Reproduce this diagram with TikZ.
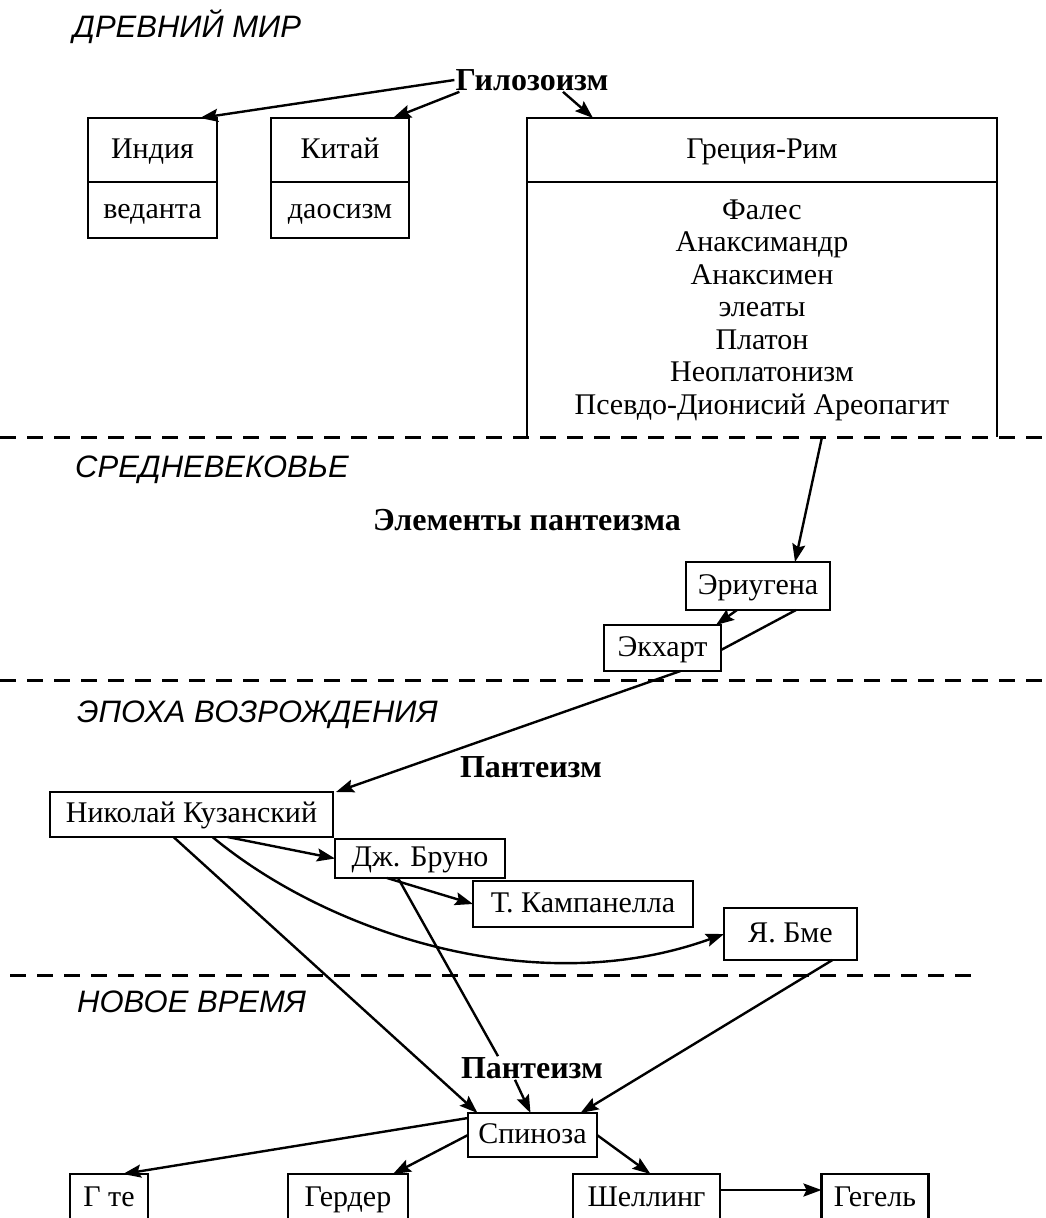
\documentclass[tikz,border=0pt]{standalone}
\usepackage{fontspec}
\setmainfont{Liberation Serif}
\setsansfont{Liberation Sans}
\usepackage{tikz}
\usetikzlibrary{arrows.meta,positioning}
\tikzset{
  boxnode/.style={rectangle, draw=black, line width=2.8pt, fill=white, inner sep=0pt, outer sep=0pt,
    text height=22pt, text depth=6pt, font=\fontsize{30}{32.5}\selectfont, align=center},
  listnode/.style={inner sep=0pt, font=\fontsize{30}{32.5}\selectfont, align=center},
  termnode/.style={inner sep=1pt, font=\bfseries\fontsize{32}{36}\selectfont},
  eranode/.style={anchor=west, inner sep=0pt, font=\sffamily\itshape\fontsize{31}{34}\selectfont},
  normaledge/.style={-{Stealth[length=18pt, width=13pt, inset=3pt]}, draw=black, line width=2.4pt},
  plainedge/.style={draw=black, line width=2.4pt},
  eraline/.style={draw=black, line width=3pt, dash pattern=on 16pt off 11pt},
}
\begin{document}
\begin{tikzpicture}[x=1pt, y=-1pt]
  \useasboundingbox (0,0) rectangle (1046,1218);
  \clip (0,0) rectangle (1046,1218);
  % era separators
  \coordinate (sepA) at (0,437);   \coordinate (sepAend) at (1046,437);
  \coordinate (sepB) at (0,680);   \coordinate (sepBend) at (1046,680);
  \coordinate (sepC) at (10,975);  \coordinate (sepCend) at (975,975);
  \draw[eraline] (sepA) -- (sepAend);
  \draw[eraline] (sepB) -- (sepBend);
  \draw[eraline] (sepC) -- (sepCend);
  % era titles
  \node[eranode] (ancient) at (73,27) {ДРЕВНИЙ МИР};
  \node[eranode] (medieval) at (75,470) {СРЕДНЕВЕКОВЬЕ};
  \node[eranode] (renaissance) at (77,715) {ЭПОХА ВОЗРОЖДЕНИЯ};
  \node[eranode] (modern) at (77,1002) {НОВОЕ ВРЕМЯ};
  % ancient world
  \node[termnode] (hylo) at (532,80) {Гилозоизм};
  \node[boxnode, minimum width=129pt, minimum height=64pt] (india) at (152.5,150) {Индия};
  \node[boxnode, minimum width=129pt, minimum height=56pt, anchor=north] (vedanta) at (india.south) {веданта};
  \node[boxnode, minimum width=138pt, minimum height=64pt] (china) at (340,150) {Китай};
  \node[boxnode, minimum width=138pt, minimum height=56pt, anchor=north] (taoism) at (china.south) {даосизм};
  \node[boxnode, minimum width=470pt, minimum height=64pt] (greece) at (762,150) {Греция-Рим};
  \draw[line width=2.8pt] (greece.south west) -- (greece.south west |- sepA);
  \draw[line width=2.8pt] (greece.south east) -- (greece.south east |- sepA);
  \node[listnode] (greeklist) at (762,310) {Фалес\\Анаксимандр\\Анаксимен\\элеаты\\Платон\\Неоплатонизм\\Псевдо-Дионисий Ареопагит};
  \draw[normaledge] (hylo.west) -- ([xshift=-17pt]india.north east);
  \draw[normaledge] ([xshift=5pt]hylo.south west) -- ([xshift=-16pt]china.north east);
  \draw[normaledge] ([xshift=31pt]hylo.south) -- ([xshift=66pt]greece.north west);
  % middle ages
  \node[termnode] (elements) at (527,520) {Элементы пантеизма};
  \node[boxnode, minimum width=144pt, minimum height=48pt] (eriugena) at (758,586) {Эриугена};
  \node[boxnode, minimum width=117pt, minimum height=46pt] (eckhart) at (662.5,648) {Экхарт};
  \coordinate (greecefoot) at (822,437);
  \draw[normaledge] (greecefoot) -- ([xshift=37pt]eriugena.north);
  \draw[normaledge] ([xshift=-21pt]eriugena.south) -- ([xshift=-5pt]eckhart.north east);
  \draw[plainedge] ([xshift=38pt]eriugena.south) -- ([yshift=-2pt]eckhart.east);
  % renaissance
  \node[termnode] (panA) at (531,767) {Пантеизм};
  \node[boxnode, minimum width=283pt, minimum height=45pt] (nikolai) at (191.5,814.5) {Николай Кузанский};
  \node[boxnode, minimum width=170pt, minimum height=39pt] (bruno) at (420,858.5) {Дж. Бруно};
  \node[boxnode, minimum width=220pt, minimum height=46pt] (campanella) at (583,904) {Т. Кампанелла};
  \node[boxnode, minimum width=133pt, minimum height=52pt] (boehme) at (790.5,934) {Я. Бме};
  \draw[normaledge] ([xshift=18pt]eckhart.south) -- ([xshift=3pt]nikolai.north east);
  \draw[normaledge] ([xshift=36pt]nikolai.south) -- (bruno.west);
  \draw[normaledge] ([xshift=21pt]nikolai.south) .. controls (328,933) and (536,1002) .. (boehme.west);
  \draw[normaledge] ([xshift=-33pt]bruno.south) -- (campanella.west);
  % modern times
  \node[termnode] (panB) at (532,1068) {Пантеизм};
  \node[boxnode, minimum width=129pt, minimum height=44pt] (spinoza) at (532.5,1135) {Спиноза};
  \node[boxnode, minimum width=78pt, minimum height=48pt] (goethe) at (109,1198) {Г те};
  \node[boxnode, minimum width=120pt, minimum height=48pt] (herder) at (348,1198) {Гердер};
  \node[boxnode, minimum width=147pt, minimum height=48pt] (schelling) at (646.5,1198) {Шеллинг};
  \node[boxnode, minimum width=107pt, minimum height=48pt] (hegel) at (875,1198) {Гегель};
  \draw[plainedge] ([xshift=-22pt]bruno.south) -- ([xshift=-34pt]panB.north);
  \draw[normaledge] ([xshift=-18pt]nikolai.south) -- ([xshift=-55pt]spinoza.north);
  \draw[normaledge] ([xshift=-17pt]panB.south) -- ([xshift=-2pt]spinoza.north);
  \draw[normaledge] ([xshift=42pt]boehme.south) -- ([xshift=48pt]spinoza.north);
  \draw[normaledge] ([yshift=-5pt]spinoza.north west) -- ([xshift=14pt]goethe.north);
  \draw[normaledge] (spinoza.west) -- ([xshift=45pt]herder.north);
  \draw[normaledge] (spinoza.east) -- ([xshift=4pt]schelling.north);
  \draw[normaledge] ([yshift=8pt]schelling.east) -- ([yshift=8pt]hegel.west);
\end{tikzpicture}
\end{document}
